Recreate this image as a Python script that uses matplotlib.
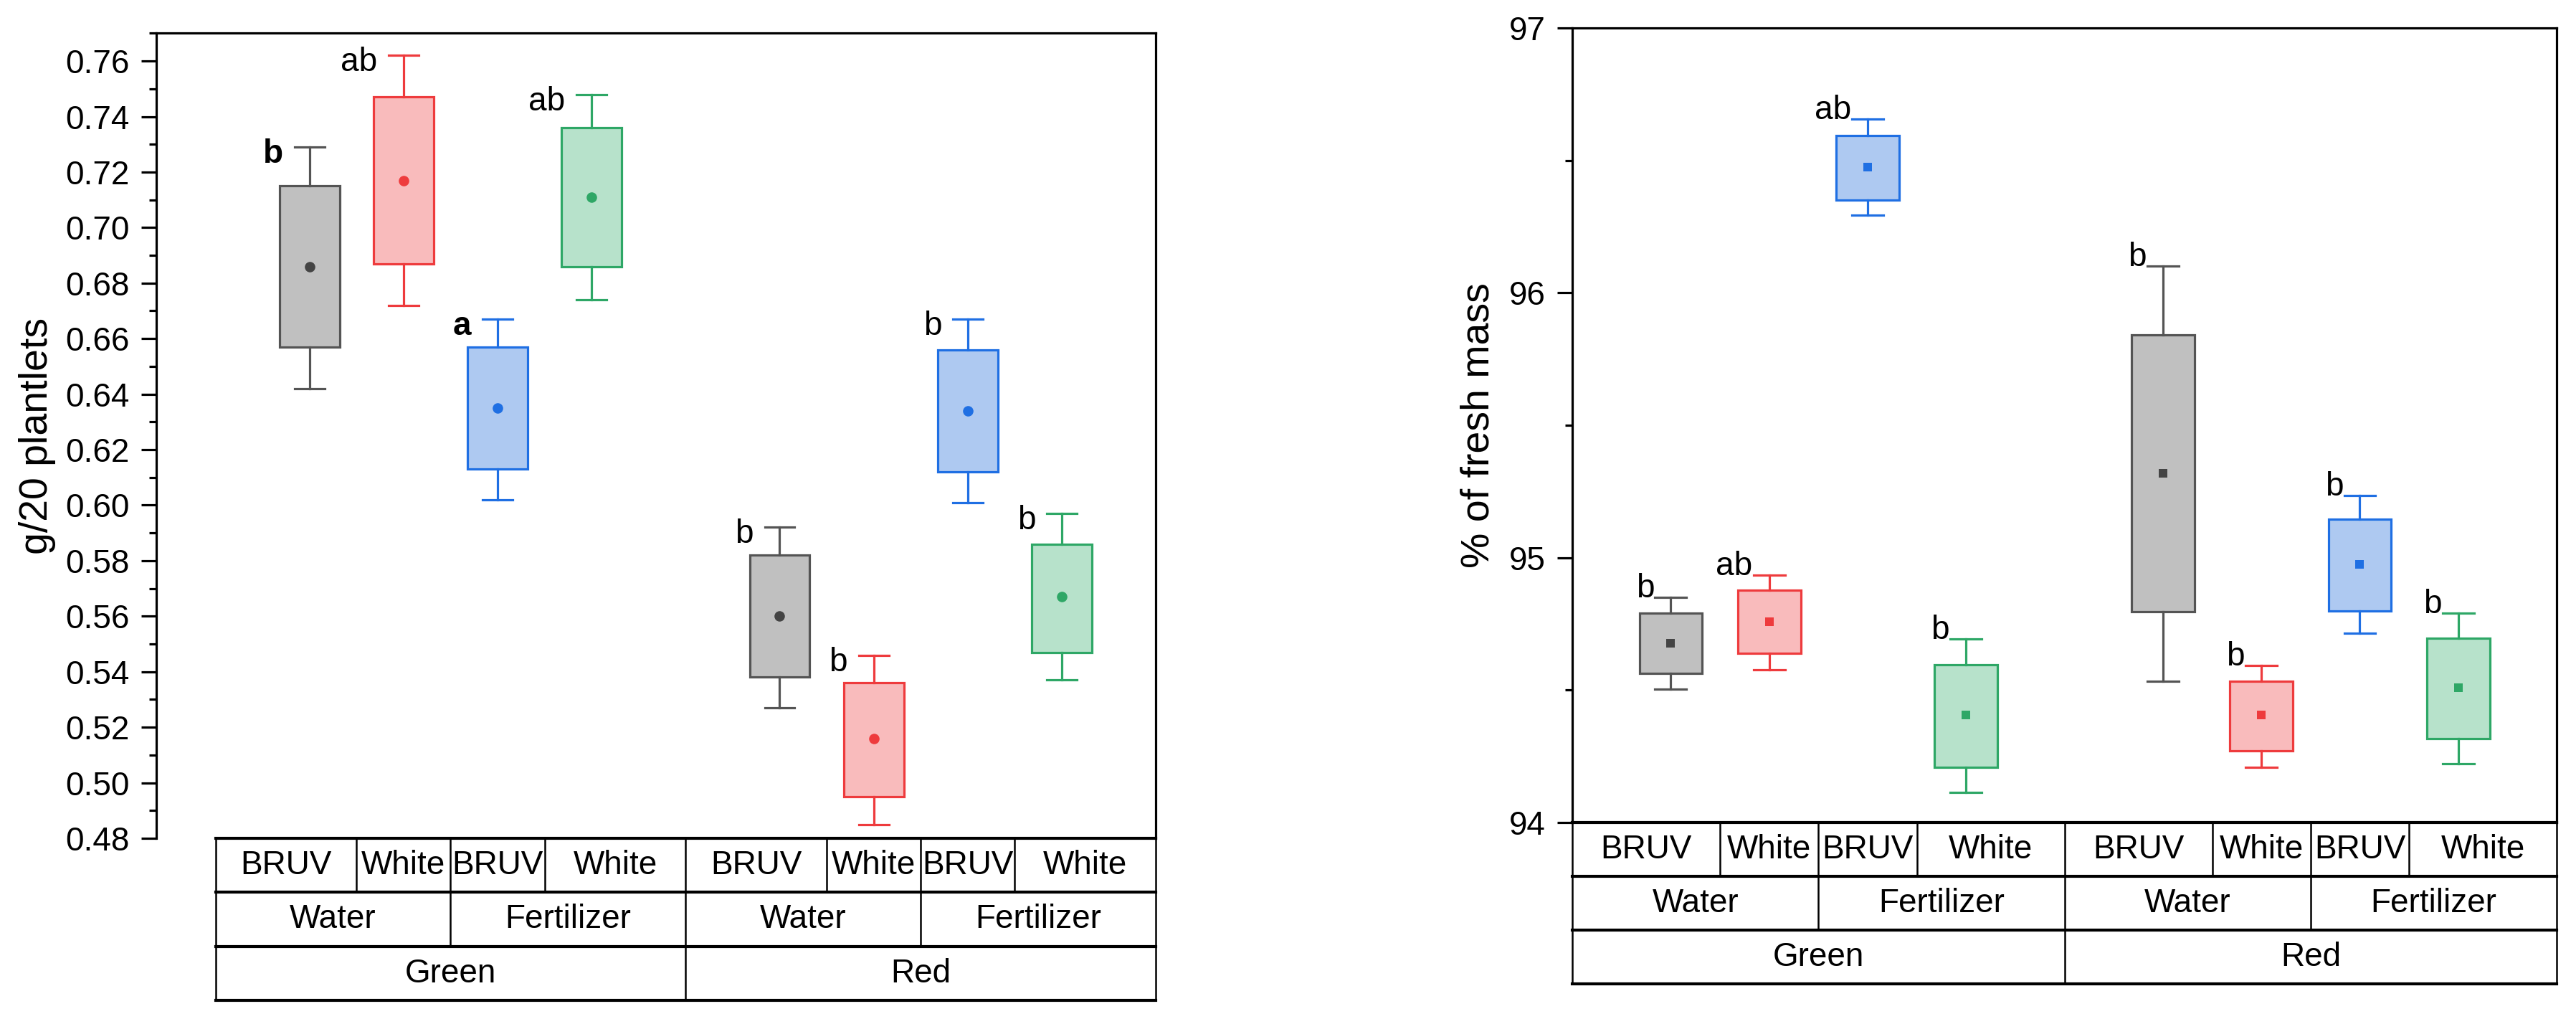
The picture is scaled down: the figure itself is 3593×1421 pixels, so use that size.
import matplotlib
matplotlib.use('Agg')
import matplotlib.pyplot as plt
from matplotlib.ticker import MultipleLocator
from matplotlib.transforms import offset_copy

plt.rcParams['font.family'] = ['Liberation Sans', 'DejaVu Sans']

# x categories (three levels, drawn as a table under each plot)
light = ['BRUV', 'White'] * 4
treatment = ['Water', 'Fertilizer'] * 2
colour = ['Green', 'Red']

# left panel: g/20 plantlets  (whislo, q1, mean, q3, whishi)
mass_lo = [0.642, 0.672, 0.602, 0.674, 0.527, 0.485, 0.601, 0.537]
mass_q1 = [0.657, 0.687, 0.613, 0.686, 0.538, 0.495, 0.612, 0.547]
mass_mean = [0.686, 0.717, 0.635, 0.711, 0.560, 0.516, 0.634, 0.567]
mass_q3 = [0.715, 0.747, 0.657, 0.736, 0.582, 0.536, 0.656, 0.586]
mass_hi = [0.729, 0.762, 0.667, 0.748, 0.592, 0.546, 0.667, 0.597]
mass_letters = ['b', 'ab', 'a', 'ab', 'b', 'b', 'b', 'b']
mass_bold = [True, False, True, False, False, False, False, False]

# right panel: % of fresh mass
water_lo = [94.503, 94.577, 96.294, 94.113, 94.533, 94.209, 94.714, 94.221]
water_q1 = [94.562, 94.640, 96.350, 94.209, 94.797, 94.272, 94.800, 94.317]
water_mean = [94.677, 94.758, 96.475, 94.405, 95.320, 94.405, 94.974, 94.508]
water_q3 = [94.790, 94.876, 96.593, 94.596, 95.842, 94.533, 95.146, 94.697]
water_hi = [94.849, 94.935, 96.657, 94.692, 96.102, 94.594, 95.234, 94.790]
water_letters = ['b', 'ab', 'ab', 'b', 'b', 'b', 'b', 'b']

edge_cols = ['#545454', '#EE3B3D', '#1F6FE3', '#2EA766'] * 2
fill_cols = ['#C0C0C0', '#F9BBBC', '#AEC9F1', '#B7E2CB'] * 2
mean_cols = ['#444444', '#EE3B3D', '#1F6FE3', '#2EA766'] * 2

positions = [0, 1, 2, 3, 5, 6, 7, 8]
bounds1 = [-1, 0.5, 1.5, 2.5, 4, 5.5, 6.5, 7.5, 9]
bounds2 = [-1, 1.5, 4, 6.5, 9]
bounds3 = [-1, 4, 9]

FS = 33
LW = 2.3


def draw_panel(ax, lo, q1, mean, q3, hi, marker, ms, row_h):
    stats = [dict(whislo=a, q1=b, med=c, mean=c, q3=d, whishi=e)
             for a, b, c, d, e in zip(lo, q1, mean, q3, hi)]
    bp = ax.bxp(stats, positions=positions, widths=0.64, capwidths=0.32,
                patch_artist=True, showmeans=True, showfliers=False,
                manage_ticks=False, medianprops=dict(linewidth=0))
    for i in range(len(stats)):
        bp['boxes'][i].set(facecolor=fill_cols[i], edgecolor=edge_cols[i], linewidth=LW)
        for art in bp['whiskers'][2 * i:2 * i + 2] + bp['caps'][2 * i:2 * i + 2]:
            art.set(color=edge_cols[i], linewidth=LW)
        bp['means'][i].set(marker=marker, markersize=ms, markerfacecolor=mean_cols[i],
                           markeredgewidth=0)

    ax.set_xticks([])
    ax.spines['bottom'].set_visible(False)
    for s in ['left', 'top', 'right']:
        ax.spines[s].set_linewidth(LW)
    ax.tick_params(axis='y', which='major', direction='out', length=15, width=LW,
                   labelsize=FS, pad=12)
    ax.tick_params(axis='y', which='minor', direction='out', length=7.5, width=LW)

    # the category table under the axis
    tr = ax.get_xaxis_transform()
    for k in range(4):
        ax.plot([-1, 9], [-k * row_h, -k * row_h], color='black', lw=3,
                transform=tr, clip_on=False, solid_capstyle='projecting')
    rows = [(bounds1, light), (bounds2, treatment), (bounds3, colour)]
    for k, (b, labels) in enumerate(rows):
        y0, y1 = -k * row_h, -(k + 1) * row_h
        for xb in b:
            ax.plot([xb, xb], [y0, y1], color='black', lw=1.8, transform=tr, clip_on=False)
        for j, lab in enumerate(labels):
            ax.text((b[j] + b[j + 1]) / 2, (y0 + y1) / 2, lab, transform=tr,
                    ha='center', va='center', fontsize=FS)


fig = plt.figure(figsize=(35.93, 14.21), dpi=100)

ax1 = fig.add_axes([0.06067, 0.17734, 0.3880, 0.7903])
draw_panel(ax1, mass_lo, mass_q1, mass_mean, mass_q3, mass_hi, 'o', 10.5, 0.0672)
ax1.set_xlim(-1.63, 9)
ax1.set_ylim(0.48, 0.7701)
ax1.yaxis.set_major_locator(MultipleLocator(0.02))
ax1.yaxis.set_minor_locator(MultipleLocator(0.01))
ax1.yaxis.set_major_formatter('{x:.2f}')
ax1.set_ylabel('g/20 plantlets', fontsize=40)
ax1.yaxis.set_label_coords(-0.119, 0.5)
ax1.yaxis.label.set_va('center')
shift = offset_copy(ax1.transData, fig=fig, y=-10, units='dots')
for p, top, lab, bold in zip(positions, mass_hi, mass_letters, mass_bold):
    ax1.text(p - 0.28, top, lab, ha='right', va='center', fontsize=FS,
             fontweight='bold' if bold else 'normal', transform=shift)

ax2 = fig.add_axes([0.6104, 0.19282, 0.3821, 0.7797])
draw_panel(ax2, water_lo, water_q1, water_mean, water_q3, water_hi, 's', 9, 0.0677)
ax2.set_xlim(-1, 9)
ax2.set_ylim(94, 97)
ax2.yaxis.set_major_locator(MultipleLocator(1))
ax2.yaxis.set_minor_locator(MultipleLocator(0.5))
ax2.set_ylabel('% of fresh mass', fontsize=40)
ax2.yaxis.set_label_coords(-0.0954, 0.5)
ax2.yaxis.label.set_va('center')
for p, top, lab in zip(positions, water_hi, water_letters):
    ax2.text(p - 0.17, top, lab, ha='right', va='baseline', fontsize=FS)

fig.savefig('out.png', dpi=100)
